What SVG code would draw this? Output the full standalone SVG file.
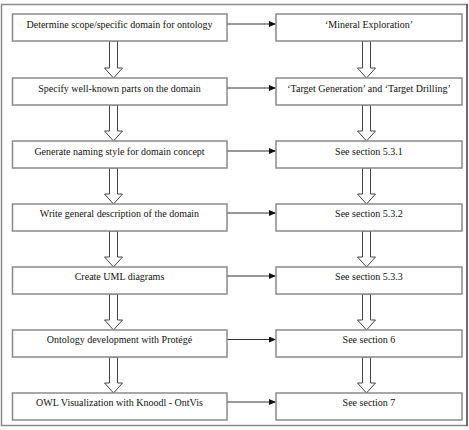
<svg xmlns="http://www.w3.org/2000/svg" width="469" height="430" viewBox="0 0 469 430">
<defs>
<style>
.box{fill:#fff;stroke:#8a8a8a;stroke-width:1.5}
.t{font-family:'Liberation Serif','Times New Roman','DejaVu Serif',serif;font-size:10px;fill:#111;text-anchor:middle}
.conn{stroke:#333;stroke-width:1;fill:none}
.hollow{fill:#fff;stroke:#444;stroke-width:1}
</style>
<marker id="ah" markerWidth="7" markerHeight="6" refX="6.5" refY="3" orient="auto" markerUnits="userSpaceOnUse">
<path d="M0,0 L7,3 L0,6 Z" fill="#111"/>
</marker>
</defs>
<rect x="0" y="0" width="469" height="430" fill="#fff"/>
<rect x="1.5" y="4.5" width="465.5" height="421" fill="none" stroke="#8a8a8a" stroke-width="1.5"/>
<line x1="467" y1="4" x2="467" y2="426" stroke="#444" stroke-width="1.2"/>
<g id="connectors">
<line class="conn" x1="227" y1="24" x2="275.5" y2="24" marker-end="url(#ah)"/>
<line class="conn" x1="227" y1="88" x2="275.5" y2="88" marker-end="url(#ah)"/>
<line class="conn" x1="227" y1="151" x2="275.5" y2="151" marker-end="url(#ah)"/>
<line class="conn" x1="227" y1="213" x2="275.5" y2="213" marker-end="url(#ah)"/>
<line class="conn" x1="227" y1="276" x2="275.5" y2="276" marker-end="url(#ah)"/>
<line class="conn" x1="227" y1="339.5" x2="275.5" y2="339.5" marker-end="url(#ah)"/>
<line class="conn" x1="227" y1="402" x2="275.5" y2="402" marker-end="url(#ah)"/>
<polygon class="hollow" points="109.5,41 117.5,41 117.5,68 122.5,68 113.5,78 104.5,68 109.5,68"/>
<polygon class="hollow" points="109.5,105 117.5,105 117.5,131 122.5,131 113.5,141 104.5,131 109.5,131"/>
<polygon class="hollow" points="109.5,168 117.5,168 117.5,194 122.5,194 113.5,204 104.5,194 109.5,194"/>
<polygon class="hollow" points="109.5,231 117.5,231 117.5,257 122.5,257 113.5,267 104.5,257 109.5,257"/>
<polygon class="hollow" points="109.5,294 117.5,294 117.5,320 122.5,320 113.5,330 104.5,320 109.5,320"/>
<polygon class="hollow" points="109.5,357 117.5,357 117.5,383 122.5,383 113.5,393 104.5,383 109.5,383"/>
<polygon class="hollow" points="362.5,41 370.5,41 370.5,68 375.5,68 366.5,78 357.5,68 362.5,68"/>
<polygon class="hollow" points="362.5,105 370.5,105 370.5,131 375.5,131 366.5,141 357.5,131 362.5,131"/>
<polygon class="hollow" points="362.5,168 370.5,168 370.5,194 375.5,194 366.5,204 357.5,194 362.5,194"/>
<polygon class="hollow" points="362.5,231 370.5,231 370.5,257 375.5,257 366.5,267 357.5,257 362.5,257"/>
<polygon class="hollow" points="362.5,294 370.5,294 370.5,320 375.5,320 366.5,330 357.5,320 362.5,320"/>
<polygon class="hollow" points="362.5,357 370.5,357 370.5,383 375.5,383 366.5,393 357.5,383 362.5,383"/>
</g>
<g id="L1"><rect class="box" x="12.5" y="14" width="214.5" height="27"/><text class="t" x="119.5" y="27.5">Determine scope/specific domain for ontology</text></g>
<g id="L2"><rect class="box" x="12.5" y="78" width="214.5" height="27"/><text class="t" x="119.5" y="91.5">Specify well-known parts on the domain</text></g>
<g id="L3"><rect class="box" x="12.5" y="141" width="214.5" height="27"/><text class="t" x="119.5" y="154.5">Generate naming style for domain concept</text></g>
<g id="L4"><rect class="box" x="12.5" y="204" width="214.5" height="27"/><text class="t" x="119.5" y="216.5">Write general description of the domain</text></g>
<g id="L5"><rect class="box" x="12.5" y="267" width="214.5" height="27"/><text class="t" x="119.5" y="279.5">Create UML diagrams</text></g>
<g id="L6"><rect class="box" x="12.5" y="330" width="214.5" height="27"/><text class="t" x="119.5" y="343">Ontology development with Protégé</text></g>
<g id="L7"><rect class="box" x="12.5" y="393" width="214.5" height="27"/><text class="t" x="119.5" y="405.5">OWL Visualization with Knoodl - OntVis</text></g>
<g id="R1"><rect class="box" x="276" y="14" width="186" height="27"/><text class="t" x="369" y="27.5">‘Mineral Exploration’</text></g>
<g id="R2"><rect class="box" x="276" y="78" width="186" height="27"/><text class="t" x="369" y="91.5">‘Target Generation’ and ‘Target Drilling’</text></g>
<g id="R3"><rect class="box" x="276" y="141" width="186" height="27"/><text class="t" x="369" y="154.5">See section 5.3.1</text></g>
<g id="R4"><rect class="box" x="276" y="204" width="186" height="27"/><text class="t" x="369" y="216.5">See section 5.3.2</text></g>
<g id="R5"><rect class="box" x="276" y="267" width="186" height="27"/><text class="t" x="369" y="279.5">See section 5.3.3</text></g>
<g id="R6"><rect class="box" x="276" y="330" width="186" height="27"/><text class="t" x="369" y="343">See section 6</text></g>
<g id="R7"><rect class="box" x="276" y="393" width="186" height="27"/><text class="t" x="369" y="405.5">See section 7</text></g>
</svg>
